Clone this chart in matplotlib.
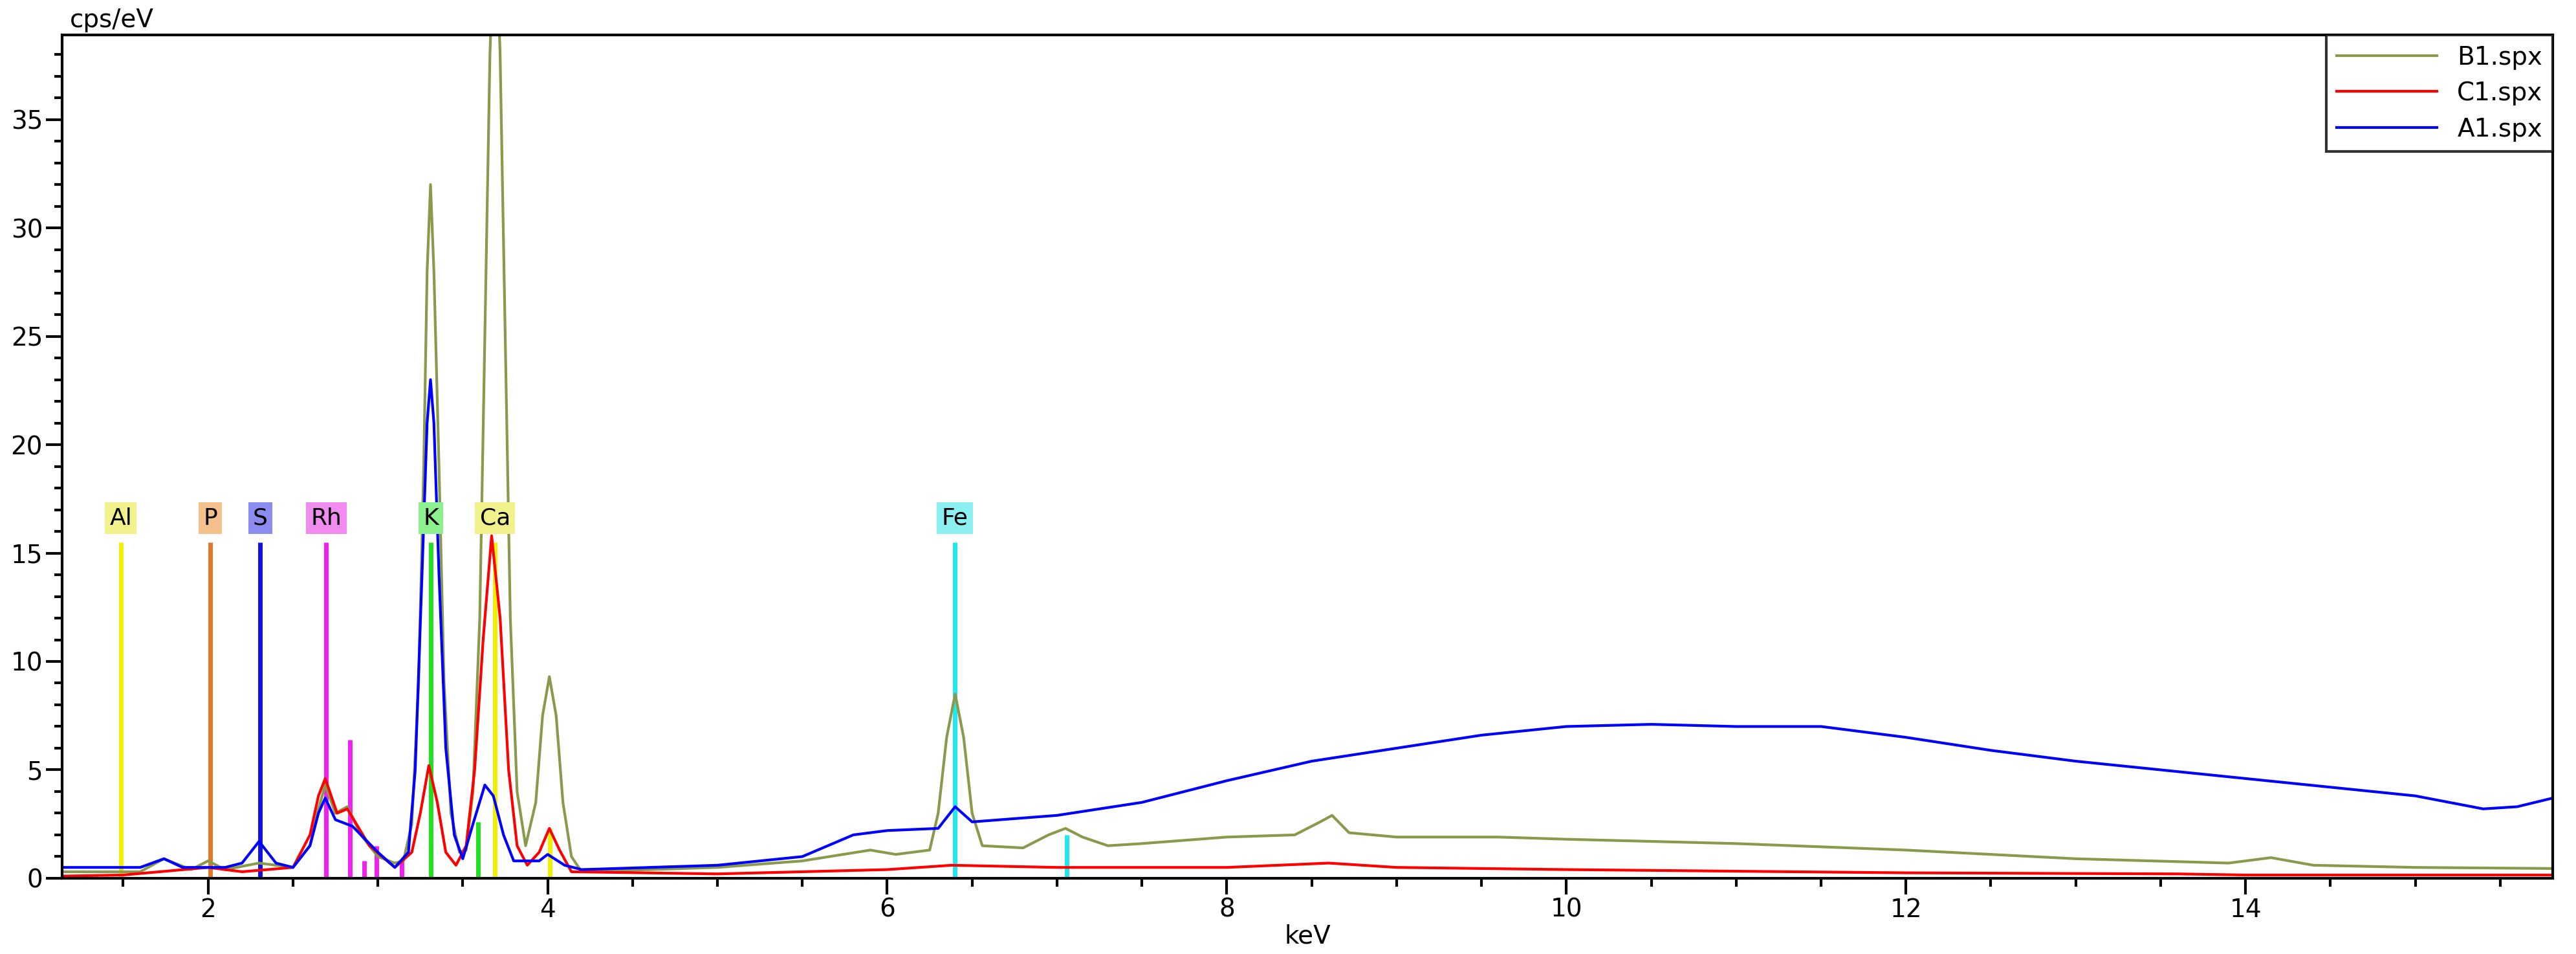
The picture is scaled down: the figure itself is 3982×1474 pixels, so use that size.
import matplotlib
matplotlib.use("Agg")
import matplotlib.pyplot as plt
from matplotlib.ticker import MultipleLocator

# spectra: (keV, cps/eV)
b1_kev = [1.14, 1.6, 1.74, 1.9, 2.0, 2.1, 2.3, 2.5, 2.6, 2.65, 2.69, 2.75, 2.82, 2.9, 3.0,
          3.1, 3.15, 3.2, 3.24, 3.27, 3.29, 3.31, 3.33, 3.36, 3.39, 3.43, 3.48, 3.52, 3.56,
          3.6, 3.63, 3.66, 3.69, 3.72, 3.75, 3.78, 3.82, 3.87, 3.93, 3.97, 4.01, 4.05, 4.09,
          4.14, 4.2, 5.0, 5.5, 5.9, 6.05, 6.25, 6.3, 6.35, 6.4, 6.45, 6.5, 6.56, 6.8, 6.95,
          7.05, 7.15, 7.3, 7.5, 8.0, 8.4, 8.55, 8.62, 8.72, 9.0, 9.6, 10.0, 11.0, 12.0, 13.0,
          13.9, 14.15, 14.4, 15.0, 15.81]
b1_cps = [0.3, 0.3, 0.9, 0.4, 0.8, 0.4, 0.7, 0.5, 1.5, 3.2, 4.3, 3.0, 3.3, 2.0, 1.0,
          0.7, 0.8, 2.5, 9.0, 19.0, 28.0, 32.0, 28.0, 19.0, 9.0, 3.0, 1.2, 1.3, 4.0,
          12.0, 25.0, 38.0, 45.0, 38.0, 25.0, 12.0, 4.0, 1.5, 3.5, 7.5, 9.3, 7.5, 3.5,
          1.0, 0.3, 0.5, 0.8, 1.3, 1.1, 1.3, 3.0, 6.5, 8.5, 6.5, 3.0, 1.5, 1.4, 2.0,
          2.3, 1.9, 1.5, 1.6, 1.9, 2.0, 2.6, 2.9, 2.1, 1.9, 1.9, 1.8, 1.6, 1.3, 0.9,
          0.7, 0.95, 0.6, 0.5, 0.45]

c1_kev = [1.14, 1.5, 2.0, 2.2, 2.5, 2.6, 2.65, 2.69, 2.76, 2.82, 2.95, 3.1, 3.2, 3.25, 3.3,
          3.35, 3.4, 3.46, 3.52, 3.57, 3.62, 3.67, 3.72, 3.77, 3.82, 3.88, 3.95, 4.01, 4.07,
          4.14, 5.0, 6.0, 6.38, 7.0, 8.0, 8.6, 9.0, 10.0, 12.0, 13.6, 14.0, 15.81]
c1_cps = [0.1, 0.15, 0.5, 0.3, 0.5, 2.0, 3.8, 4.6, 3.0, 3.2, 1.5, 0.5, 1.2, 3.0, 5.2,
          3.5, 1.2, 0.6, 1.5, 5.0, 11.0, 15.8, 12.0, 5.0, 1.5, 0.6, 1.2, 2.3, 1.3,
          0.3, 0.2, 0.4, 0.6, 0.5, 0.5, 0.7, 0.5, 0.4, 0.25, 0.2, 0.15, 0.15]

a1_kev = [1.14, 1.6, 1.74, 1.85, 2.1, 2.2, 2.3, 2.4, 2.5, 2.6, 2.65, 2.69, 2.75, 2.85, 3.0,
          3.1, 3.18, 3.22, 3.26, 3.29, 3.31, 3.33, 3.36, 3.4, 3.45, 3.5, 3.56, 3.63, 3.68,
          3.74, 3.8, 3.95, 4.0, 4.1, 4.2, 5.0, 5.5, 5.8, 6.0, 6.3, 6.4, 6.5, 7.0, 7.5, 8.0,
          8.5, 9.0, 9.5, 10.0, 10.5, 11.0, 11.5, 12.0, 12.5, 13.0, 13.5, 14.0, 14.5, 15.0,
          15.4, 15.6, 15.81]
a1_cps = [0.5, 0.5, 0.9, 0.5, 0.5, 0.7, 1.7, 0.7, 0.5, 1.5, 3.0, 3.7, 2.7, 2.4, 1.2,
          0.5, 1.2, 5.0, 14.0, 21.0, 23.0, 21.0, 14.0, 6.0, 2.0, 0.9, 2.5, 4.3, 3.8,
          2.0, 0.8, 0.8, 1.1, 0.6, 0.4, 0.6, 1.0, 2.0, 2.2, 2.3, 3.3, 2.6, 2.9, 3.5, 4.5,
          5.4, 6.0, 6.6, 7.0, 7.1, 7.0, 7.0, 6.5, 5.9, 5.4, 5.0, 4.6, 4.2, 3.8,
          3.2, 3.3, 3.7]

# element lines: name, keV, line colour, label colour
elem_names = ["Al", "P", "S", "Rh", "K", "Ca", "Fe"]
elem_kev = [1.486, 2.013, 2.307, 2.696, 3.312, 3.690, 6.398]
elem_line_colors = ["#f0f000", "#e07828", "#1010e0", "#f020f0", "#20e020", "#f0f000", "#20e8f0"]
elem_box_colors = ["#f2f28c", "#f5c08c", "#8c8cf0", "#f08cf0", "#8cf08c", "#f2f28c", "#8cf0f0"]
elem_height = 15.5

minor_kev = [2.834, 2.92, 2.99, 3.14, 3.59, 4.012, 7.058]
minor_height = [6.4, 0.8, 1.5, 0.8, 2.6, 2.3, 2.0]
minor_colors = ["#f020f0", "#f020f0", "#f020f0", "#f020f0", "#20e020", "#f0f000", "#20e8f0"]

fig = plt.figure(figsize=(39.82, 14.74), dpi=100)
ax = fig.add_axes([0.0241, 0.0794, 0.9669, 0.884])

for x, h, c in zip(minor_kev, minor_height, minor_colors):
    ax.vlines(x, 0, h, color=c, linewidth=5)
for name, x, lc, bc in zip(elem_names, elem_kev, elem_line_colors, elem_box_colors):
    ax.vlines(x, 0, elem_height, color=lc, linewidth=5)
    ax.text(x, elem_height + 0.6, name, ha="center", va="bottom", fontsize=26,
            bbox=dict(boxstyle="square,pad=0.2", facecolor=bc, edgecolor="none"))

ax.plot(b1_kev, b1_cps, color="#8a9a4c", linewidth=3, label="B1.spx")
ax.plot(c1_kev, c1_cps, color="#ff0000", linewidth=3, label="C1.spx")
ax.plot(a1_kev, a1_cps, color="#0000ff", linewidth=3, label="A1.spx")

ax.set_xlim(1.14, 15.81)
ax.set_ylim(0, 38.9)
ax.xaxis.set_major_locator(MultipleLocator(2))
ax.xaxis.set_minor_locator(MultipleLocator(0.5))
ax.yaxis.set_major_locator(MultipleLocator(5))
ax.yaxis.set_minor_locator(MultipleLocator(1))
ax.tick_params(which="major", direction="out", length=18, width=3, labelsize=28)
ax.tick_params(which="minor", direction="out", length=9, width=3)
for sp in ax.spines.values():
    sp.set_linewidth(3)

ax.set_xlabel("keV", fontsize=28, labelpad=2)
fig.text(0.027, 0.979, "cps/eV", fontsize=28, ha="left", va="center")

leg = ax.legend(loc="upper right", fontsize=28, frameon=True, fancybox=False,
                borderaxespad=0, handlelength=4, labelspacing=0.45)
leg.get_frame().set_edgecolor("black")
leg.get_frame().set_linewidth(3)

fig.savefig("out.png", dpi=100)
